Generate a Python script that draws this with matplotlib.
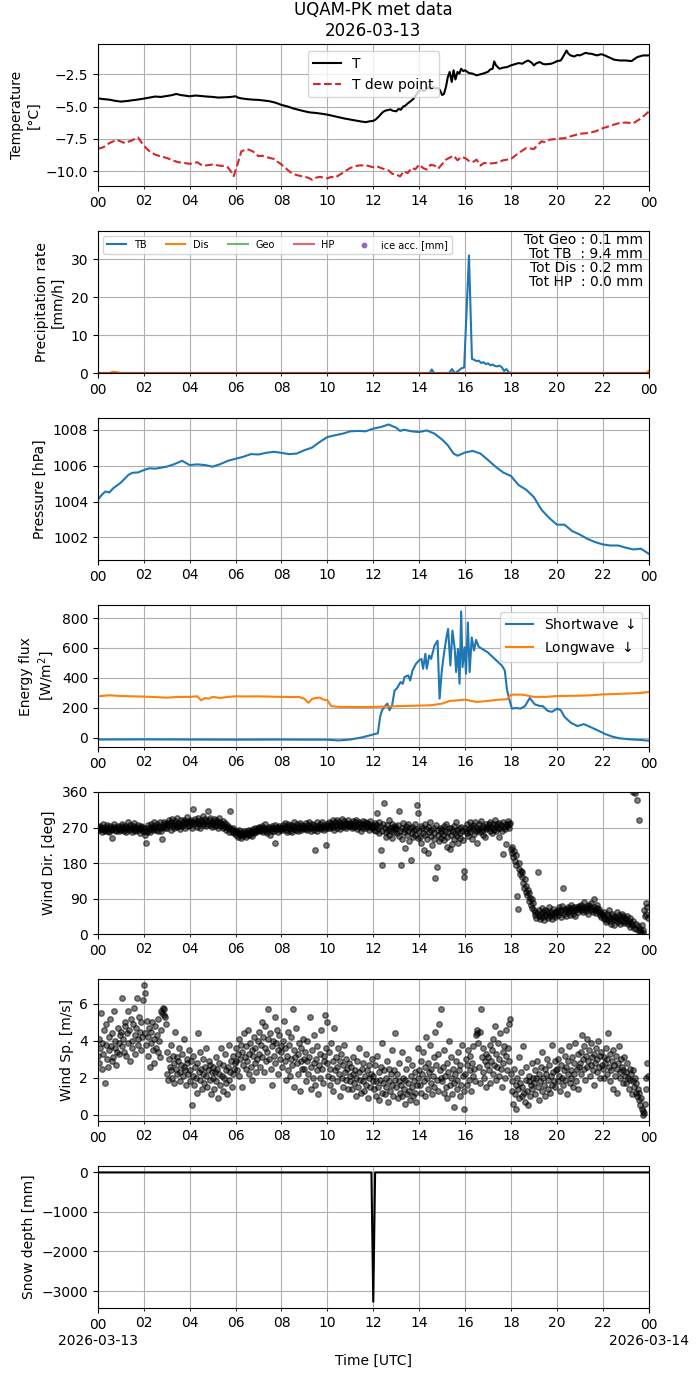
import numpy as np
import pandas as pd
import matplotlib
matplotlib.use('Agg')
import matplotlib.pyplot as plt
import matplotlib.dates as mdates

day = pd.Timestamp('2026-03-13')

# --- temperature [degC] ---
t_hours = [0.0, 0.25, 0.5, 0.75, 1.0, 1.25, 1.5, 1.75, 2.0, 2.25,
           2.5, 2.75, 3.0, 3.2, 3.42, 3.6, 3.8, 4.0, 4.25, 4.5,
           4.75, 5.0, 5.25, 5.5, 5.75, 6.0, 6.1, 6.25, 6.5, 6.75,
           7.0, 7.25, 7.5, 7.75, 8.0, 8.25, 8.5, 8.75, 9.0, 9.25,
           9.5, 9.75, 10.0, 10.25, 10.5, 10.75, 11.0, 11.25, 11.5, 11.67,
           11.83, 12.0, 12.1, 12.25, 12.4, 12.5, 12.6, 12.75, 12.85, 13.0,
           13.1, 13.2, 13.3, 13.4, 13.5, 13.6, 13.75, 13.85, 14.0, 14.1,
           14.2, 14.3, 14.4, 14.5, 14.6, 14.7, 14.8, 14.9, 15.0, 15.08,
           15.17, 15.25, 15.33, 15.42, 15.5, 15.58, 15.67, 15.75, 15.83, 15.92,
           16.0, 16.17, 16.33, 16.5, 16.67, 16.83, 17.0, 17.1, 17.2, 17.27,
           17.35, 17.5, 17.67, 17.83, 18.0, 18.17, 18.33, 18.5, 18.6, 18.75,
           18.9, 19.0, 19.1, 19.25, 19.4, 19.5, 19.75, 19.9, 20.0, 20.17,
           20.3, 20.42, 20.5, 20.6, 20.75, 20.9, 21.0, 21.25, 21.4, 21.5,
           21.75, 21.9, 22.0, 22.25, 22.5, 22.75, 23.0, 23.25, 23.5, 23.75,
           24.0]
t_air = [-4.36, -4.42, -4.46, -4.55, -4.61, -4.57, -4.51, -4.45, -4.38, -4.30,
         -4.22, -4.25, -4.18, -4.12, -4.02, -4.10, -4.15, -4.20, -4.14, -4.18,
         -4.22, -4.25, -4.30, -4.28, -4.26, -4.20, -4.30, -4.36, -4.42, -4.46,
         -4.48, -4.53, -4.59, -4.70, -4.87, -4.98, -5.13, -5.25, -5.36, -5.45,
         -5.49, -5.55, -5.62, -5.72, -5.82, -5.92, -6.00, -6.08, -6.16, -6.20,
         -6.14, -6.10, -6.00, -5.75, -5.45, -5.33, -5.28, -5.22, -5.32, -5.36,
         -5.18, -5.24, -5.00, -4.92, -4.75, -4.62, -4.40, -4.12, -3.78, -3.65,
         -3.80, -3.68, -3.52, -3.62, -3.48, -3.60, -3.55, -3.70, -4.10, -4.02,
         -3.45, -2.70, -2.32, -3.09, -2.19, -2.90, -2.32, -2.45, -2.07, -2.25,
         -2.19, -2.40, -2.45, -2.58, -2.50, -2.42, -2.30, -2.12, -2.07, -1.50,
         -1.81, -2.07, -1.98, -1.94, -1.81, -1.72, -1.63, -1.68, -1.55, -1.43,
         -1.60, -1.81, -1.65, -1.55, -1.70, -1.73, -1.68, -1.58, -1.48, -1.43,
         -1.05, -0.66, -0.90, -1.04, -1.12, -1.00, -1.04, -0.84, -0.90, -0.91,
         -1.04, -0.95, -0.97, -1.17, -1.37, -1.43, -1.43, -1.48, -1.17, -1.04,
         -1.04]

td_hours = [0, 0.25, 0.5, 0.83, 1.0, 1.17, 1.5, 1.75, 2.0, 2.25,
            2.5, 2.75, 3.0, 3.25, 3.5, 3.75, 4.0, 4.33, 4.5, 4.67,
            5.0, 5.25, 5.5, 5.67, 5.83, 5.92, 6.08, 6.25, 6.5, 6.75,
            7.0, 7.17, 7.33, 7.67, 8.0, 8.33, 8.5, 8.67, 9.0, 9.17,
            9.33, 9.5, 9.67, 10.0, 10.17, 10.33, 10.67, 11.0, 11.33, 11.67,
            12.0, 12.17, 12.33, 12.5, 12.67, 12.83, 13.0, 13.17, 13.33, 13.5,
            13.67, 13.83, 14.0, 14.17, 14.33, 14.5, 14.67, 14.83, 15.0, 15.17,
            15.33, 15.5, 15.67, 15.83, 16.0, 16.17, 16.33, 16.5, 16.67, 16.83,
            17.0, 17.33, 17.67, 18.0, 18.33, 18.67, 19.0, 19.17, 19.33, 19.5,
            19.67, 20.0, 20.33, 20.67, 21.0, 21.33, 21.67, 22.0, 22.33, 22.67,
            23.0, 23.33, 23.67, 24.0]
t_dew = [-8.28, -8.13, -7.82, -7.56, -7.70, -7.82, -7.60, -7.38, -8.02, -8.46,
         -8.72, -8.85, -8.97, -9.15, -9.30, -9.35, -9.43, -9.30, -9.50, -9.56,
         -9.48, -9.55, -9.61, -9.70, -10.10, -10.38, -9.50, -8.46, -8.28, -8.46,
         -8.84, -8.80, -8.90, -9.05, -9.48, -9.99, -10.20, -10.30, -10.43, -10.50,
         -10.66, -10.50, -10.43, -10.55, -10.43, -10.50, -10.12, -9.74, -9.56, -9.53,
         -9.69, -9.62, -9.74, -9.85, -9.94, -10.20, -10.25, -10.40, -9.99, -10.15,
         -9.74, -9.85, -9.48, -9.75, -9.87, -9.50, -9.56, -9.80, -9.45, -9.10,
         -8.95, -8.79, -9.15, -8.90, -8.97, -9.20, -9.30, -9.10, -9.56, -9.35,
         -9.41, -9.36, -9.15, -9.05, -8.59, -8.20, -8.28, -7.95, -7.69, -7.75,
         -7.56, -7.49, -7.44, -7.26, -7.10, -7.05, -6.92, -6.67, -6.49, -6.29,
         -6.23, -6.29, -5.90, -5.39]

# --- precipitation rate [mm/h] ---
tb_hours = [0, 14.45, 14.55, 14.65, 15.3, 15.43, 15.55, 15.7, 15.84, 15.96,
            16.17, 16.3, 16.4, 16.5, 16.6, 16.7, 16.8, 16.9, 17.0, 17.1,
            17.2, 17.3, 17.4, 17.5, 17.6, 17.7, 17.8, 17.9, 18.0, 24]
tb_rate = [0, 0, 1.0, 0, 0, 1.1, 0, 0.6, 1.3, 1.5,
           31.0, 3.8, 3.5, 3.2, 3.3, 2.7, 2.9, 2.4, 2.6, 2.1,
           2.3, 1.9, 1.8, 2.0, 1.6, 0.6, 1.1, 0.3, 0, 0]
dis_hours = [0, 0.5, 0.65, 0.8, 1.0, 23.9, 24]
dis_rate = [0, 0, 0.4, 0.3, 0, 0, 0.6]
geo_hours = [0, 24]
geo_rate = [0, 0]
hp_hours = [0, 24]
hp_rate = [0, 0]
totals_text = 'Tot Geo : 0.1 mm\nTot TB  : 9.4 mm\nTot Dis : 0.2 mm\nTot HP  : 0.0 mm'

# --- pressure [hPa] ---
p_hours = [0, 0.17, 0.33, 0.5, 0.67, 1.0, 1.33, 1.5, 1.75, 2.0, 2.25, 2.5,
           3.0, 3.33, 3.67, 4.0, 4.33, 4.67, 5.0, 5.33, 5.67, 6.0, 6.33, 6.67,
           7.0, 7.33, 7.67, 8.0, 8.33, 8.67, 9.0, 9.33, 9.67, 10.0, 10.33, 10.67,
           11.0, 11.33, 11.67, 12.0, 12.33, 12.67, 13.0, 13.17, 13.33, 13.67,
           14.0, 14.33, 14.67, 15.0, 15.25, 15.5, 15.67, 16.0, 16.33, 16.67,
           17.0, 17.33, 17.67, 18.0, 18.33, 18.67, 19.0, 19.33, 19.67, 20.0,
           20.33, 20.67, 21.0, 21.33, 21.67, 22.0, 22.33, 22.67, 23.0, 23.33,
           23.67, 24.0]
pressure = [1004.10, 1004.37, 1004.56, 1004.50, 1004.74, 1005.05, 1005.48, 1005.60,
            1005.62, 1005.75, 1005.85, 1005.83, 1005.94, 1006.08, 1006.27, 1006.03,
            1006.07, 1006.03, 1005.94, 1006.08, 1006.27, 1006.38, 1006.49, 1006.64,
            1006.62, 1006.71, 1006.77, 1006.71, 1006.64, 1006.67, 1006.86, 1007.00,
            1007.32, 1007.59, 1007.69, 1007.78, 1007.91, 1007.93, 1007.91, 1008.06,
            1008.15, 1008.29, 1008.11, 1007.93, 1008.00, 1007.91, 1007.87, 1007.96,
            1007.78, 1007.45, 1007.13, 1006.67, 1006.55, 1006.73, 1006.82, 1006.67,
            1006.31, 1005.94, 1005.61, 1005.42, 1004.92, 1004.65, 1004.24, 1003.54,
            1003.08, 1002.71, 1002.71, 1002.35, 1002.16, 1001.92, 1001.74, 1001.61,
            1001.55, 1001.55, 1001.43, 1001.33, 1001.37, 1001.09]

# --- radiation [W/m2] ---
sw_hours = [0, 2, 4, 6, 8, 9, 10, 10.5, 11.0, 11.5,
            12.0, 12.2, 12.3, 12.38, 12.54, 12.62, 12.71, 12.82, 12.93,
            13.02, 13.19, 13.29, 13.36, 13.52, 13.61, 13.71, 13.86, 13.99,
            14.1, 14.17, 14.27, 14.33, 14.44, 14.52, 14.67, 14.8, 14.89, 14.98,
            15.08, 15.19, 15.26, 15.36, 15.45, 15.55, 15.61, 15.69, 15.76, 15.83, 15.89, 15.98,
            16.04, 16.12, 16.2, 16.29, 16.39, 16.48, 16.59, 16.74, 16.98,
            17.13, 17.37, 17.6, 17.73, 17.83, 17.94,
            18.04, 18.22, 18.41, 18.61, 18.82,
            19.03, 19.24, 19.39, 19.6, 19.78,
            20.02, 20.17, 20.33, 20.61, 20.9,
            21.18, 21.5, 21.81, 22.12, 22.43, 22.74, 23.21, 23.68, 24.0]
sw_down = [-12, -11, -12, -13, -12, -13, -13, -18, -12, 2,
           22, 30, 140, 184, 217, 228, 184, 217, 317,
           328, 372, 361, 406, 417, 383, 450, 494, 516,
           527, 461, 561, 461, 550, 527, 616, 649, 261, 439,
           561, 671, 727, 483, 716, 594, 439, 594, 361, 844, 472, 605,
           428, 771, 439, 671, 583, 654, 609, 594, 572,
           550, 516, 483, 450, 317, 250,
           195, 199, 195, 211, 266,
           224, 213, 211, 180, 173,
           195, 184, 140, 100, 78,
           91, 69, 47, 24, 7, -4, -11, -15, -20]
lw_hours = [0, 0.5, 1.0, 1.5, 2.0, 2.5, 3.0, 3.5, 4.0,
            4.33, 4.5, 4.67, 4.83, 5.0, 5.33, 5.67, 6.0,
            6.5, 7.0, 7.5, 8.0, 8.5, 8.75,
            9.0, 9.17, 9.33, 9.5, 9.67, 9.83, 10.0,
            10.17, 10.5, 11.0, 11.5, 12.0, 12.5, 13.0, 13.5, 14.0, 14.5, 15.0,
            15.33, 15.67, 16.0, 16.5, 17.0, 17.5, 17.83, 18.0,
            18.5, 19.0, 19.5, 20.0, 20.5, 21.0, 21.5, 22.0, 22.5, 23.0, 23.5, 23.75, 24.0]
lw_down = [277, 284, 279, 277, 275, 272, 268, 273, 273,
           277, 250, 266, 261, 273, 266, 273, 277,
           276, 277, 275, 273, 272, 273,
           261, 233, 259, 266, 268, 255, 250,
           211, 206, 206, 205, 206, 208, 211, 213, 215, 217, 228,
           246, 250, 255, 239, 246, 255, 257, 288,
           288, 273, 273, 279, 280, 281, 284, 290, 292, 295, 298, 301, 306]

# --- wind, one value every 2 min, one row per hour ---
wind_dir_rows = [
    [268, 272, 263, 275, 266, 259, 270, 278, 265, 261, 271, 267, 276, 262, 258, 269, 274, 264, 244, 266, 272, 279, 263, 268, 260, 271, 275, 266, 262, 270],
    [265, 273, 280, 268, 261, 274, 266, 259, 271, 283, 269, 263, 276, 270, 258, 267, 274, 281, 265, 261, 272, 268, 277, 263, 270, 256, 266, 275, 271, 262],
    [268, 262, 251, 230, 258, 270, 276, 265, 259, 272, 280, 268, 263, 274, 284, 270, 265, 278, 271, 262, 275, 283, 268, 260, 240, 272, 279, 285, 270, 276],
    [282, 270, 276, 288, 279, 265, 283, 291, 274, 280, 268, 286, 277, 271, 293, 282, 275, 266, 279, 288, 273, 284, 290, 278, 270, 285, 296, 281, 274, 287],
    [276, 283, 290, 270, 318, 285, 278, 292, 281, 272, 287, 295, 279, 284, 270, 289, 283, 298, 276, 282, 291, 274, 286, 280, 313, 288, 277, 293, 282, 271],
    [285, 279, 291, 274, 283, 288, 276, 270, 284, 295, 281, 273, 278, 286, 269, 275, 282, 271, 264, 277, 268, 259, 272, 312, 266, 258, 263, 270, 255, 261],
    [258, 250, 262, 247, 255, 264, 252, 243, 259, 254, 248, 261, 256, 245, 253, 262, 250, 257, 265, 252, 260, 248, 258, 266, 255, 262, 270, 258, 264, 268],
    [265, 272, 260, 268, 275, 263, 258, 270, 266, 279, 262, 255, 270, 264, 272, 250, 267, 260, 274, 268, 262, 276, 230, 266, 271, 259, 268, 275, 263, 270],
    [270, 263, 277, 268, 282, 272, 265, 258, 274, 280, 268, 262, 276, 270, 259, 273, 285, 266, 271, 264, 278, 269, 261, 275, 282, 270, 265, 277, 268, 272],
    [274, 266, 281, 270, 263, 277, 285, 272, 260, 268, 279, 271, 265, 276, 214, 270, 283, 262, 274, 268, 280, 272, 266, 284, 271, 263, 277, 269, 225, 275],
    [278, 270, 285, 274, 268, 281, 276, 290, 272, 265, 283, 277, 288, 270, 279, 284, 273, 267, 280, 292, 276, 271, 286, 279, 268, 282, 275, 289, 273, 280],
    [281, 274, 268, 286, 277, 271, 283, 290, 275, 266, 279, 285, 272, 280, 262, 276, 287, 270, 278, 284, 268, 275, 281, 273, 265, 279, 286, 272, 268, 276],
    [272, 265, 281, 260, 276, 306, 268, 255, 285, 274, 214, 262, 174, 279, 331, 270, 258, 246, 276, 265, 288, 252, 270, 262, 280, 244, 271, 259, 274, 266],
    [268, 255, 276, 313, 248, 262, 176, 270, 240, 282, 258, 266, 217, 274, 250, 262, 280, 236, 268, 188, 255, 272, 245, 264, 278, 252, 266, 328, 243, 308],
    [262, 245, 275, 230, 268, 255, 212, 280, 250, 266, 240, 272, 205, 258, 284, 248, 265, 225, 270, 256, 242, 141, 276, 170, 252, 263, 235, 268, 258, 244],
    [266, 250, 275, 238, 262, 280, 245, 222, 258, 270, 215, 252, 268, 228, 262, 274, 240, 256, 283, 248, 264, 232, 270, 255, 244, 272, 260, 238, 146, 159],
    [270, 262, 255, 278, 248, 266, 284, 258, 272, 240, 268, 276, 254, 285, 262, 270, 232, 265, 278, 258, 270, 286, 262, 252, 275, 268, 245, 280, 266, 272],
    [268, 278, 262, 285, 272, 256, 280, 270, 265, 288, 274, 260, 278, 268, 245, 282, 270, 276, 262, 285, 203, 272, 266, 280, 228, 275, 286, 270, 278, 282],
    [215, 205, 222, 196, 210, 186, 174, 200, 97, 63, 165, 180, 152, 160, 145, 158, 130, 118, 140, 108, 122, 98, 112, 85, 104, 92, 74, 88, 66, 80],
    [62, 48, 57, 40, 53, 157, 45, 60, 38, 52, 66, 44, 55, 35, 50, 62, 47, 58, 41, 53, 70, 46, 56, 39, 51, 64, 48, 57, 43, 55],
    [55, 62, 48, 68, 57, 44, 60, 72, 118, 52, 65, 58, 47, 63, 70, 55, 60, 49, 66, 74, 58, 52, 68, 61, 45, 63, 70, 57, 64, 72],
    [68, 60, 75, 63, 55, 70, 82, 64, 58, 72, 66, 50, 74, 68, 61, 78, 65, 57, 70, 88, 62, 54, 67, 73, 59, 65, 48, 56, 44, 52],
    [48, 38, 55, 42, 30, 50, 36, 45, 60, 33, 41, 27, 52, 39, 46, 22, 44, 35, 55, 40, 31, 48, 37, 25, 43, 50, 34, 46, 29, 40],
    [38, 30, 45, 25, 34, 18, 40, 28, 22, 360, 33, 15, 358, 26, 12, 339, 20, 8, 288, 14, 5, 22, 3, 10, 60, 45, 80, 52, 70, 40],
]
wind_sp_rows = [
    [3.2, 4.1, 2.8, 3.6, 5.5, 3.9, 2.5, 3.3, 4.6, 1.7, 3.8, 4.9, 3.0, 2.6, 4.2, 3.5, 5.2, 3.7, 2.9, 4.4, 3.1, 5.6, 3.6, 4.0, 2.7, 3.4, 4.7, 3.9, 3.3, 4.3],
    [4.5, 3.7, 6.3, 4.1, 3.4, 5.0, 4.8, 3.2, 4.4, 5.6, 3.9, 4.6, 2.9, 5.2, 4.0, 3.6, 4.9, 5.8, 4.3, 3.3, 4.7, 6.3, 4.1, 3.8, 5.3, 4.5, 3.5, 5.0, 4.2, 6.2],
    [7.0, 6.6, 4.4, 3.8, 5.1, 4.2, 3.2, 4.7, 2.6, 3.9, 4.5, 5.0, 3.5, 4.1, 2.8, 4.8, 3.6, 4.3, 5.2, 3.4, 4.0, 3.1, 4.6, 5.6, 5.5, 5.8, 5.4, 5.7, 5.3, 4.9],
    [3.4, 2.2, 1.9, 3.0, 2.6, 3.8, 2.4, 2.0, 3.2, 2.8, 1.7, 4.5, 2.5, 3.1, 2.2, 2.9, 3.6, 2.3, 1.8, 2.7, 3.3, 2.1, 2.6, 4.1, 2.4, 1.6, 3.0, 2.8, 2.2, 3.5],
    [2.4, 1.8, 2.9, 0.5, 2.1, 3.2, 1.6, 2.6, 2.0, 1.2, 2.8, 4.4, 2.3, 1.9, 3.4, 2.5, 1.4, 2.2, 3.0, 1.7, 2.6, 2.1, 3.6, 1.5, 2.4, 2.9, 1.9, 2.7, 1.1, 2.3],
    [2.0, 2.6, 1.4, 2.3, 3.1, 1.8, 2.5, 0.9, 2.2, 2.8, 1.6, 3.6, 2.1, 1.3, 2.7, 2.0, 3.3, 1.7, 2.4, 1.1, 2.6, 3.8, 1.9, 2.3, 2.9, 1.5, 2.2, 3.2, 2.5, 2.8],
    [2.9, 3.6, 2.4, 3.3, 4.1, 2.1, 3.0, 3.8, 1.5, 3.4, 2.7, 4.4, 3.1, 2.5, 3.7, 2.9, 4.6, 2.2, 3.3, 3.9, 2.6, 3.5, 1.9, 3.2, 4.2, 2.8, 3.6, 2.3, 3.0, 4.0],
    [3.3, 4.5, 2.6, 3.8, 5.0, 3.1, 4.2, 2.3, 3.6, 4.8, 2.9, 3.4, 4.1, 5.7, 3.0, 4.4, 2.5, 3.7, 1.6, 4.0, 3.2, 5.3, 2.8, 3.9, 4.6, 2.2, 3.5, 4.3, 3.0, 3.7],
    [3.4, 2.6, 4.0, 5.1, 2.9, 3.6, 1.9, 3.2, 4.5, 2.4, 3.8, 2.1, 3.0, 4.2, 2.7, 5.7, 3.5, 1.5, 3.1, 4.7, 2.8, 3.3, 2.2, 3.9, 1.3, 2.9, 3.6, 2.5, 4.1, 3.0],
    [2.5, 3.4, 1.8, 2.9, 4.0, 2.2, 3.1, 5.3, 2.6, 1.4, 3.5, 2.0, 2.8, 4.3, 1.6, 3.0, 2.4, 3.7, 1.1, 2.7, 3.3, 2.0, 4.6, 2.5, 1.7, 3.2, 2.9, 5.4, 3.6, 5.0],
    [2.8, 2.1, 3.4, 1.6, 2.5, 3.9, 2.0, 2.9, 1.3, 4.7, 2.4, 3.1, 1.8, 2.6, 3.6, 2.2, 1.0, 2.9, 3.3, 2.0, 2.7, 1.5, 3.8, 2.3, 1.9, 3.0, 2.5, 1.4, 2.8, 2.1],
    [1.8, 2.6, 1.4, 2.2, 3.1, 1.7, 2.4, 1.0, 2.0, 2.9, 1.5, 2.3, 3.6, 1.9, 1.2, 2.5, 1.8, 2.8, 1.3, 2.1, 3.3, 1.6, 2.4, 0.9, 2.0, 2.7, 1.5, 2.2, 3.0, 1.8],
    [2.1, 1.4, 2.7, 1.0, 1.8, 3.2, 1.5, 2.3, 0.8, 1.9, 2.6, 1.2, 3.9, 1.7, 2.4, 1.1, 2.0, 1.5, 2.9, 0.7, 1.8, 2.5, 1.3, 2.2, 3.5, 1.6, 1.0, 2.4, 1.9, 4.4],
    [1.5, 2.2, 0.9, 1.8, 2.8, 1.2, 1.6, 3.4, 1.0, 2.0, 1.4, 0.6, 1.9, 2.5, 1.1, 1.7, 3.0, 1.3, 0.8, 2.1, 1.5, 2.7, 1.0, 1.8, 1.2, 2.3, 0.7, 1.6, 2.0, 3.6],
    [2.4, 1.6, 2.9, 1.2, 2.2, 3.4, 1.8, 2.6, 1.0, 4.2, 2.0, 2.8, 1.4, 2.3, 3.8, 1.7, 2.5, 1.1, 2.1, 3.1, 1.5, 4.5, 2.7, 1.9, 1.3, 3.3, 4.9, 2.4, 5.7, 2.0],
    [1.8, 2.6, 1.2, 3.5, 2.1, 1.5, 2.8, 0.9, 2.3, 4.0, 1.6, 2.0, 3.1, 1.1, 2.5, 1.7, 0.4, 2.2, 2.9, 1.4, 1.9, 3.4, 2.4, 1.0, 2.7, 1.6, 3.8, 2.1, 1.3, 0.3],
    [2.2, 3.0, 1.6, 2.7, 3.5, 1.9, 2.4, 3.2, 1.3, 2.8, 2.1, 3.7, 2.5, 1.8, 4.3, 4.6, 4.4, 3.9, 2.6, 4.5, 1.7, 5.7, 3.1, 2.3, 3.6, 2.0, 2.9, 1.5, 3.3, 2.7],
    [3.1, 2.4, 3.8, 1.7, 2.9, 3.5, 2.2, 4.1, 2.7, 4.8, 3.3, 1.9, 2.6, 3.9, 2.1, 3.0, 4.4, 2.5, 1.5, 3.4, 2.8, 3.7, 2.0, 3.2, 4.6, 2.4, 3.6, 4.9, 2.9, 5.2],
    [2.2, 1.3, 1.8, 0.6, 2.5, 1.1, 1.6, 0.3, 2.0, 1.4, 3.1, 0.9, 1.7, 2.3, 1.0, 1.5, 3.7, 1.2, 0.7, 1.9, 2.6, 1.3, 0.5, 1.8, 2.1, 1.0, 1.6, 2.8, 1.4, 2.0],
    [1.7, 2.4, 1.1, 2.0, 2.9, 1.5, 2.2, 0.8, 1.8, 2.6, 1.3, 3.4, 2.0, 1.6, 2.5, 1.0, 2.2, 3.0, 1.4, 1.9, 2.7, 1.2, 2.1, 3.8, 1.6, 2.3, 1.8, 2.9, 1.5, 2.4],
    [2.5, 1.8, 3.0, 2.1, 1.3, 2.7, 3.5, 2.0, 1.6, 2.4, 3.2, 1.9, 2.6, 1.1, 2.2, 2.9, 3.7, 1.7, 2.4, 2.0, 3.1, 1.5, 2.8, 2.2, 3.9, 1.8, 2.5, 3.3, 1.4, 2.6],
    [2.8, 3.4, 2.2, 4.3, 3.0, 2.5, 3.7, 1.9, 3.2, 2.6, 4.1, 2.9, 3.5, 2.1, 2.7, 3.9, 3.1, 2.4, 3.3, 1.6, 2.8, 3.6, 2.3, 3.0, 4.0, 2.6, 3.2, 2.0, 3.4, 2.7],
    [2.5, 3.1, 2.0, 2.8, 3.6, 2.2, 3.0, 4.4, 2.6, 1.8, 3.3, 2.4, 2.9, 1.4, 3.5, 2.7, 2.1, 3.2, 2.5, 1.2, 2.8, 3.7, 2.3, 2.0, 3.0, 2.6, 1.7, 2.4, 3.1, 2.1],
    [2.3, 1.7, 2.8, 2.0, 1.4, 2.5, 1.9, 2.2, 1.1, 1.8, 2.4, 1.5, 2.0, 1.2, 1.7, 1.0, 1.4, 0.8, 1.2, 0.5, 0.9, 0.3, 0.0, 0.2, 0.1, 0.6, 1.4, 2.0, 2.8, 2.1],
]

# --- snow depth [mm] ---
snow_hours = [0, 11.92, 12.0, 12.08, 24]
snow_depth = [0, 0, -3270, 0, 0]


def to_time(hours):
    return (day + pd.to_timedelta(np.asarray(hours, dtype=float), unit='h')).to_numpy()


wind_dir = np.concatenate(wind_dir_rows)
wind_sp = np.concatenate(wind_sp_rows)
wind_time = pd.date_range(day, periods=len(wind_dir), freq='2min').to_numpy()

fig, axes = plt.subplots(7, 1, figsize=(6.99, 13.77))
fig.subplots_adjust(left=0.140, right=0.928, top=0.968, bottom=0.050, hspace=0.315)

# temperature
ax = axes[0]
ax.plot(to_time(t_hours), t_air, color='k', label='T')
ax.plot(to_time(td_hours), t_dew, '--', color='tab:red', label='T dew point')
ax.set_ylabel('Temperature\n[°C]')
ax.set_title('UQAM-PK met data\n2026-03-13')
ax.legend(loc='upper center')

# precipitation
ax = axes[1]
ax.plot(to_time(tb_hours), tb_rate, color='tab:blue', label='TB')
ax.plot(to_time(dis_hours), dis_rate, color='tab:orange', label='Dis')
ax.plot(to_time(geo_hours), geo_rate, color='tab:green', alpha=0.7, label='Geo')
ax.plot(to_time(hp_hours), hp_rate, color='tab:red', alpha=0.7, label='HP')
ax.scatter([], [], color='tab:purple', s=10, label='ice acc. [mm]')
ax.set_ylim(0, 37.4)
ax.set_ylabel('Precipitation rate\n[mm/h]')
ax.legend(loc='upper left', ncol=5, fontsize=7)
ax.text(0.99, 0.985, totals_text, transform=ax.transAxes, ha='right', va='top',
        multialignment='right', linespacing=1.0)

# pressure
ax = axes[2]
ax.plot(to_time(p_hours), pressure, color='tab:blue')
ax.set_ylabel('Pressure [hPa]')

# radiation
ax = axes[3]
ax.plot(to_time(sw_hours), sw_down, color='tab:blue', label=r'Shortwave $\downarrow$')
ax.plot(to_time(lw_hours), lw_down, color='tab:orange', label=r'Longwave $\downarrow$')
ax.set_ylabel('Energy flux\n[W/m$^2$]')
ax.legend(loc='upper right')

# wind direction
ax = axes[4]
ax.plot(wind_time, wind_dir, 'o', color='k', alpha=0.5, ms=4)
ax.set_ylim(0, 360)
ax.set_yticks([0, 90, 180, 270, 360])
ax.set_ylabel('Wind Dir. [deg]')

# wind speed
ax = axes[5]
ax.plot(wind_time, wind_sp, 'o', color='k', alpha=0.5, ms=4)
ax.set_ylabel('Wind Sp. [m/s]')

# snow depth
ax = axes[6]
ax.plot(to_time(snow_hours), snow_depth, color='k')
ax.set_ylabel('Snow depth [mm]')
ax.set_xlabel('Time [UTC]')

for i, ax in enumerate(axes):
    ax.set_xlim(np.datetime64('2026-03-13T00:00'), np.datetime64('2026-03-14T00:00'))
    ax.xaxis.set_major_locator(mdates.DayLocator())
    ax.xaxis.set_minor_locator(mdates.HourLocator(byhour=range(2, 24, 2)))
    ax.xaxis.set_minor_formatter(mdates.DateFormatter('%H'))
    if i == len(axes) - 1:
        ax.xaxis.set_major_formatter(mdates.DateFormatter('%H\n%Y-%m-%d'))
    else:
        ax.xaxis.set_major_formatter(mdates.DateFormatter('%H'))
    ax.grid(True, which='both')

fig.savefig('out.png', dpi=100)
